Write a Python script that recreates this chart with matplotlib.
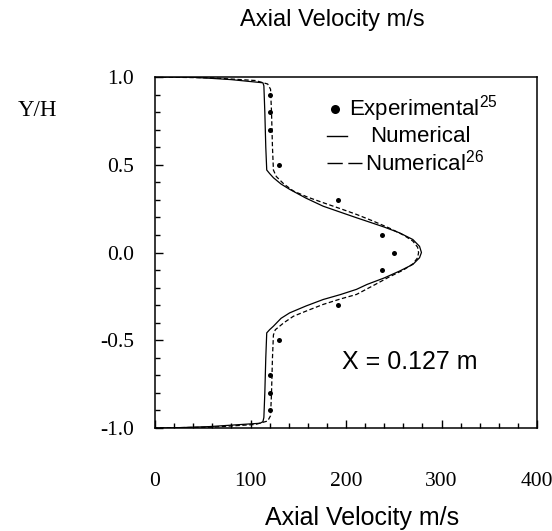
import matplotlib
matplotlib.use("Agg")
import matplotlib.pyplot as plt
from matplotlib.lines import Line2D
from matplotlib.ticker import MultipleLocator, FixedLocator

# Experimental axial velocity (m/s) at normalised height Y/H
exp_y = [0.9, 0.8, 0.7, 0.5, 0.3, 0.1, 0.0, -0.1, -0.3, -0.5, -0.7, -0.8, -0.9]
exp_u = [120, 120, 120, 130, 192, 238, 250, 238, 192, 130, 120, 120, 120]

# Present numerical prediction
num_y = [1.0, 0.999, 0.992, 0.985, 0.967, 0.95, 0.8, 0.6, 0.47, 0.45, 0.426,
         0.39, 0.36, 0.31, 0.264, 0.23, 0.198, 0.178, 0.145, 0.112, 0.074,
         0.035, 0.0, -0.03, -0.068, -0.106, -0.145, -0.182, -0.21, -0.24,
         -0.268, -0.305, -0.344, -0.375, -0.42, -0.44, -0.458, -0.6, -0.8,
         -0.94, -0.964, -0.973, -0.983, -0.992, -0.999, -1.0]
num_u = [0, 37, 60, 80, 113, 114, 115, 116, 117, 120, 124,
         132, 141, 158, 176, 194, 211, 222, 240, 256, 270,
         277, 279, 277, 270, 256, 240, 222, 211, 194,
         176, 158, 141, 132, 124, 120, 117, 116, 115,
         114, 113, 110, 82, 57, 20, 0]

# Numerical prediction of ref. 26
ref_y = [1.0, 0.995, 0.98, 0.96, 0.93, 0.8, 0.6, 0.47, 0.433, 0.39, 0.35,
         0.315, 0.284, 0.25, 0.217, 0.18, 0.14, 0.1, 0.065, 0.03, 0.0,
         -0.03, -0.065, -0.1, -0.14, -0.19, -0.239, -0.265, -0.296, -0.33,
         -0.363, -0.40, -0.44, -0.47, -0.6, -0.8, -0.93, -0.96, -0.98,
         -0.995, -1.0]
ref_u = [0, 60, 105, 118, 121, 122, 123, 124, 127, 135, 145,
         160, 176, 194, 211, 228, 245, 260, 270, 275, 276,
         275, 270, 260, 245, 228, 211, 194, 176, 160,
         145, 135, 126, 124, 123, 122, 121, 118, 105,
         60, 0]

x_ticks = [0, 100, 200, 300, 400]
y_ticks = [-1.0, -0.5, 0.0, 0.5, 1.0]

serif = ["Liberation Serif", "DejaVu Serif"]
sans = ["Liberation Sans", "DejaVu Sans"]
plt.rcParams["mathtext.fontset"] = "custom"
plt.rcParams["mathtext.rm"] = "Liberation Sans"

W, H = 552, 531
fig = plt.figure(figsize=(W / 100, H / 100), dpi=100)
fig.patch.set_facecolor("white")

left, right, top, bottom = 155, 537, 77, 428
ax = fig.add_axes([left / W, 1 - bottom / H, (right - left) / W, (bottom - top) / H])

ax.plot(num_u, num_y, color="black", lw=0.9, solid_joinstyle="round")
ax.plot(ref_u, ref_y, color="black", lw=0.9, dashes=(3.5, 2.0))
ax.plot(exp_u, exp_y, "o", color="black", ms=3.6, mec="none")

ax.set_xlim(0, 400)
ax.set_ylim(-1.0, 1.0)
ax.xaxis.set_major_locator(FixedLocator(x_ticks))
ax.yaxis.set_major_locator(FixedLocator(y_ticks))
ax.xaxis.set_minor_locator(MultipleLocator(20))
ax.yaxis.set_minor_locator(MultipleLocator(0.1))
ax.set_xticklabels([f"{v:d}" for v in x_ticks], fontfamily=serif, fontsize=15.5)
ax.set_yticklabels([f"{v:.1f}" for v in y_ticks], fontfamily=serif, fontsize=15.5)
ax.tick_params(which="both", direction="in", top=False, right=False, width=1.0)
ax.tick_params(which="major", length=6)
ax.tick_params(which="minor", length=3.5)
ax.tick_params(axis="x", which="major", pad=32)
ax.tick_params(axis="y", which="major", pad=15)
for s in ax.spines.values():
    s.set_linewidth(1.1)

# Legend drawn in axes coordinates
def ax_xy(px, py):
    return (px - left) / (right - left), (bottom - py) / (bottom - top)

lx, ly = ax_xy(335, 109)
ax.add_line(Line2D([lx], [ly], marker="o", ms=6.5, color="black", mec="none",
                   transform=ax.transAxes))
tx, ty = ax_xy(349, 109)
ax.text(tx, ty, r"Experimental$^{\mathregular{25}}$", transform=ax.transAxes,
        fontfamily=sans, fontsize=16, va="center", ha="left")

x0, yy = ax_xy(327, 136)
x1, _ = ax_xy(347, 136)
ax.add_line(Line2D([x0, x1], [yy, yy], color="black", lw=1.0, transform=ax.transAxes))
tx, ty = ax_xy(370, 136)
ax.text(tx, ty, "Numerical", transform=ax.transAxes,
        fontfamily=sans, fontsize=16, va="center", ha="left")

x0, yy = ax_xy(327, 163)
x1, _ = ax_xy(362, 163)
ax.add_line(Line2D([x0, x1], [yy, yy], color="black", lw=1.0, dashes=(11, 4),
                   transform=ax.transAxes))
tx, ty = ax_xy(365, 163)
ax.text(tx, ty, r"Numerical$^{\mathregular{26}}$", transform=ax.transAxes,
        fontfamily=sans, fontsize=16, va="center", ha="left")

tx, ty = ax_xy(342, 362)
ax.text(tx, ty, "X = 0.127 m", transform=ax.transAxes,
        fontfamily=sans, fontsize=18, va="center", ha="left")

fig.text(332 / W, 1 - 20 / H, "Axial Velocity m/s", fontfamily=sans, fontsize=17,
         ha="center", va="center")
fig.text(362 / W, 1 - 518 / H, "Axial Velocity m/s", fontfamily=sans, fontsize=18,
         ha="center", va="center")
fig.text(37 / W, 1 - 111 / H, "Y/H", fontfamily=serif, fontsize=16.5,
         ha="center", va="center")

fig.savefig("out.png", dpi=100, facecolor="white")
